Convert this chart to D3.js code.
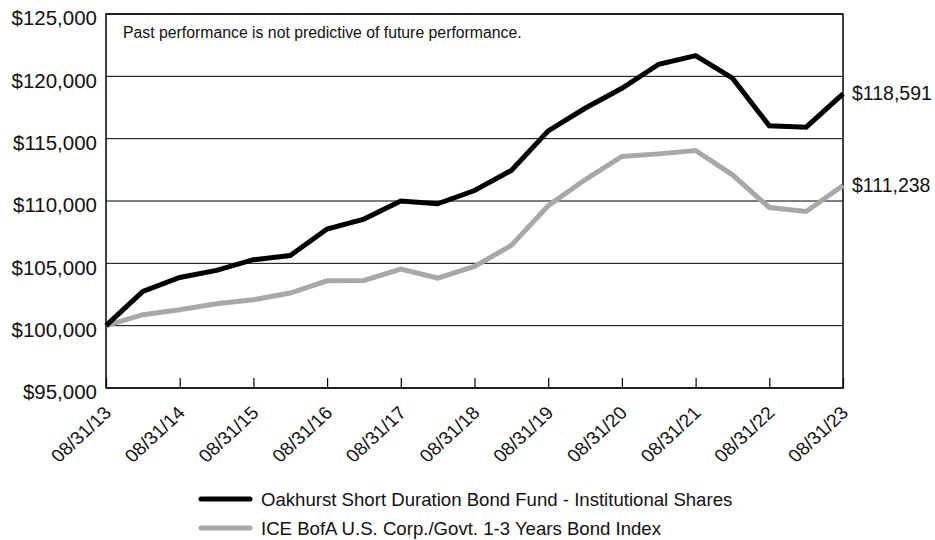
<!DOCTYPE html>
<html>
<head>
<meta charset="utf-8">
<script src="https://cdn.jsdelivr.net/npm/d3@7"></script>
<style>
  body { margin: 0; background: #fff; }
  svg text { font-family: "Liberation Sans", Arial, Helvetica, sans-serif; fill: #111; }
</style>
</head>
<body>
<div id="container"></div>
<script>
// semi-annual observations, 08/31/13 .. 08/31/23
const periods = d3.range(21).map(i => i / 2);
const fundValues = [100000, 102750, 103870, 104430, 105290, 105630, 107750, 108550, 110000, 109780,
                    110840, 112450, 115625, 117440, 119040, 120970, 121660, 119850, 116030, 115920, 118591];
const indexValues = [100000, 100880, 101280, 101760, 102080, 102620, 103600, 103630, 104540, 103820,
                     104750, 106440, 109620, 111700, 113570, 113780, 114050, 112100, 109480, 109160, 111238];
const tickLabels = ['08/31/13', '08/31/14', '08/31/15', '08/31/16', '08/31/17', '08/31/18',
                    '08/31/19', '08/31/20', '08/31/21', '08/31/22', '08/31/23'];
const yTicks = [95000, 100000, 105000, 110000, 115000, 120000, 125000];
const seriesNames = ['Oakhurst Short Duration Bond Fund - Institutional Shares',
                     'ICE BofA U.S. Corp./Govt. 1-3 Years Bond Index'];
const colors = ['#000000', '#a7a8ab'];
const note = 'Past performance is not predictive of future performance.';

const svg = d3.select('#container')
              .append('svg')
                .attr('width', 935)
                .attr('height', 540);

const plotLeft = 106, plotRight = 843, plotTop = 14, plotBottom = 388;

const xScale = d3.scaleLinear().domain([0, 10]).range([plotLeft, plotRight]);
const yScale = d3.scaleLinear().domain([95000, 125000]).range([plotBottom, plotTop]);

// gridlines
svg.append('g')
    .selectAll('line')
    .data(yTicks)
    .enter()
    .append('line')
        .attr('x1', plotLeft)
        .attr('x2', plotRight)
        .attr('y1', d => yScale(d))
        .attr('y2', d => yScale(d))
        .style('stroke', '#000')
        .style('stroke-width', 1);

// y labels
const yAxis = d3.axisLeft(yScale)
                .tickValues(yTicks)
                .tickSize(0)
                .tickPadding(9)
                .tickFormat(d => '$' + d3.format(',')(d));

svg.append('g')
    .attr('transform', 'translate(' + plotLeft + ',0)')
    .call(yAxis)
    .call(g => g.select('.domain').remove())
    .call(g => g.selectAll('text')
                .attr('dy', '0.53em')
                .style('font-size', '20.5px')
                .style('font-family', '"Liberation Sans", Arial, sans-serif')
                .attr('fill', '#111'));

// x axis, ticks pointing inward
const xAxis = d3.axisBottom(xScale)
                .tickValues(d3.range(11))
                .tickSize(-10)
                .tickFormat((d, i) => tickLabels[i]);

svg.append('g')
    .attr('transform', 'translate(0,' + plotBottom + ')')
    .call(xAxis)
    .call(g => g.select('.domain').remove())
    .call(g => g.selectAll('.tick line').style('stroke', '#000').style('stroke-width', 1.2))
    .call(g => g.selectAll('text')
                .attr('y', 0)
                .attr('dy', 0)
                .attr('text-anchor', 'end')
                .attr('transform', 'translate(6,26) scale(1.08,1) rotate(-45)')
                .style('font-size', '18px')
                .style('font-family', '"Liberation Sans", Arial, sans-serif')
                .attr('fill', '#111'));

// frame
svg.append('rect')
    .attr('x', plotLeft)
    .attr('y', plotTop)
    .attr('width', plotRight - plotLeft)
    .attr('height', plotBottom - plotTop)
    .style('fill', 'none')
    .style('stroke', '#000')
    .style('stroke-width', 1.5);

svg.append('text')
    .attr('x', 123)
    .attr('y', 38)
    .style('font-size', '15.8px')
    .text(note);

// lines
const line = d3.line()
               .x((d, i) => xScale(periods[i]))
               .y(d => yScale(d));

[indexValues, fundValues].forEach((vals, k) => {
    svg.append('path')
        .datum(vals)
        .attr('d', line)
        .style('fill', 'none')
        .style('stroke', colors[1 - k])
        .style('stroke-width', 5)
        .style('stroke-linejoin', 'miter');
});

// end labels
[fundValues, indexValues].forEach((vals) => {
    const last = vals[vals.length - 1];
    svg.append('text')
        .attr('x', xScale(10) + 9)
        .attr('y', yScale(last))
        .attr('dy', '0.33em')
        .style('font-size', '19.5px')
        .text('$' + d3.format(',')(last));
});

// legend
const legend = svg.append('g');
seriesNames.forEach((name, i) => {
    const ly = 499 + i * 29;
    legend.append('line')
        .attr('x1', 201)
        .attr('x2', 250)
        .attr('y1', ly)
        .attr('y2', ly)
        .style('stroke', colors[i])
        .style('stroke-width', 5)
        .style('stroke-linecap', 'round');
    legend.append('text')
        .attr('x', 261)
        .attr('y', ly)
        .attr('dy', '0.35em')
        .style('font-size', '18.6px')
        .text(name);
});
</script>
</body>
</html>
